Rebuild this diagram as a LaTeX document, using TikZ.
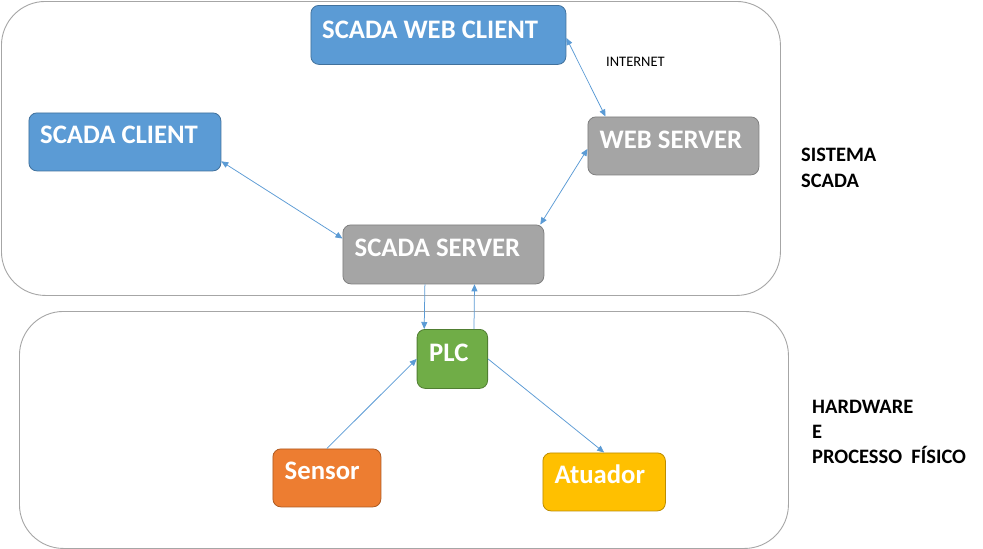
\documentclass[tikz,border=0pt]{standalone}
\usepackage{fontspec}
\setmainfont{Carlito}
\usetikzlibrary{arrows.meta,calc}
\definecolor{cblue}{HTML}{5B9BD5}
\definecolor{cblueb}{HTML}{41719C}
\definecolor{cgray}{HTML}{A5A5A5}
\definecolor{cgrayb}{HTML}{7F7F7F}
\definecolor{cgreen}{HTML}{70AD47}
\definecolor{cgreenb}{HTML}{507E32}
\definecolor{corange}{HTML}{ED7D31}
\definecolor{corangeb}{HTML}{AE5A21}
\definecolor{cgold}{HTML}{FFC000}
\definecolor{cgoldb}{HTML}{BC8C00}
\definecolor{cline}{HTML}{5B9BD5}
\definecolor{cframe}{HTML}{A6A6A6}
\tikzset{
  frame/.style={draw=cframe,line width=0.9pt,rounded corners=44pt,anchor=north west,inner sep=0pt},
  box/.style={rounded corners=8pt,line width=0.8pt,anchor=north west,inner sep=0pt},
  bluebox/.style={box,fill=cblue,draw=cblueb},
  graybox/.style={box,fill=cgray,draw=cgrayb},
  greenbox/.style={box,fill=cgreen,draw=cgreenb},
  orangebox/.style={box,fill=corange,draw=corangeb},
  goldbox/.style={box,fill=cgold,draw=cgoldb},
  boxtext/.style={anchor=base west,inner sep=0pt,text=white,font=\fontsize{26.7}{32}\selectfont\bfseries},
  sidetext/.style={anchor=base west,inner sep=0pt,align=left,font=\fontsize{20.5}{25.5}\selectfont\bfseries},
  conn/.style={draw=cline,line width=0.75pt},
  tip/.style={-{Triangle[length=7pt,width=6pt]}},
  tips/.style={{Triangle[length=7pt,width=6pt]}-{Triangle[length=7pt,width=6pt]}}
}
\begin{document}
\begin{tikzpicture}[x=1pt,y=-1pt]
\useasboundingbox (0,0) rectangle (983,549);
\fill[white] (0,0) rectangle (983,549);
% containers
\node[frame,minimum width=779pt,minimum height=294pt] (top) at (1,1) {};
\node[frame,minimum width=769pt,minimum height=237pt] (bot) at (19,311) {};
% boxes
\node[bluebox,minimum width=255pt,minimum height=59pt] (wc) at (310.5,5) {};
\node[bluebox,minimum width=192pt,minimum height=58pt] (sc) at (28.5,112.5) {};
\node[graybox,minimum width=171pt,minimum height=58pt] (ws) at (587.5,116.5) {};
\node[graybox,minimum width=201pt,minimum height=59pt] (ss) at (342.5,224.5) {};
\node[greenbox,minimum width=70.5pt,minimum height=59pt] (plc) at (416.7,329) {};
\node[orangebox,minimum width=108pt,minimum height=58pt] (sen) at (272.5,448.5) {};
\node[goldbox,minimum width=122.5pt,minimum height=58pt] (atu) at (542.5,452.5) {};
% texts
\node[boxtext] (twc) at (322,38) {SCADA WEB CLIENT};
\node[boxtext] (tsc) at (40,143.3) {SCADA CLIENT};
\node[boxtext] (tws) at (599.5,148.3) {WEB SERVER};
\node[boxtext] (tss) at (354.5,256.3) {SCADA SERVER};
\node[boxtext] (tplc) at (429,361.7) {PLC};
\node[boxtext] (tsen) at (284.5,479.3) {Sensor};
\node[boxtext] (tatu) at (554.5,483.3) {Atuador};
\node[anchor=base west,inner sep=0pt,font=\fontsize{14.5}{17}\selectfont] (inet) at (606,66) {INTERNET};
\node[sidetext,font=\fontsize{20.5}{26}\selectfont\bfseries] (lsc) at (801,187) {SISTEMA\\SCADA};
\node[sidetext,font=\fontsize{20.5}{25}\selectfont\bfseries] (lhw) at (812,463.5) {HARDWARE\\E\\PROCESSO\ \ FÍSICO};
% connectors
\draw[conn,tips] ([yshift=-3pt]wc.east) -- ([xshift=18pt]ws.north west);
\draw[conn,tips] ([yshift=-3pt]ws.west) -- ([xshift=-4pt]ss.north east);
\draw[conn,tips] ([yshift=10pt]sc.south east) -- ([yshift=-14pt]ss.north west);
\draw[conn,tip] ([xshift=-18.5pt]ss.south) -- ([xshift=7.5pt]plc.north west);
\draw[conn,tip] ([xshift=-14pt]plc.north east) -- ([xshift=-13.5pt]ss.south east -| plc.north east);
\draw[conn,tip] (sen.north) -- (plc.west);
\draw[conn,tip] (plc.east) -- (atu.north);
\end{tikzpicture}
\end{document}
